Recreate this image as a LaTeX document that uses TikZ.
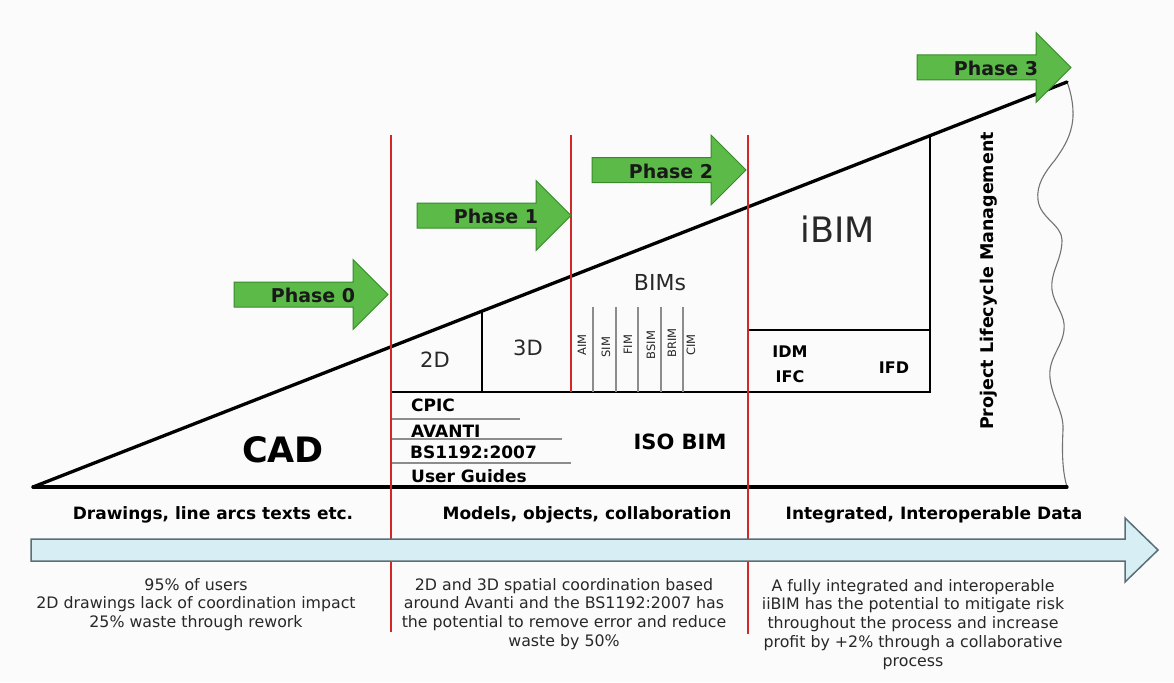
\documentclass[tikz,border=0pt]{standalone}
\usepackage{fontspec}
\setmainfont{DejaVu Sans}
\usetikzlibrary{calc}
\definecolor{phgreen}{RGB}{92,186,72}
\definecolor{phgreendark}{RGB}{58,138,44}
\definecolor{redsepcol}{RGB}{210,40,40}
\definecolor{bluefill}{RGB}{214,238,244}
\definecolor{blueedge}{RGB}{90,110,118}
\definecolor{txtgrey}{RGB}{40,40,40}
\definecolor{bgcol}{RGB}{251,251,251}
\newcommand\setsz[2]{\fontsize{#1pt}{#2pt}\selectfont}
\newcommand\PhaseArrow[4]{%
  \draw[phasearrow] (#2,#3-12.5) -- ++(119,0) -- ++(0,-22.5) -- (#2+154,#3)
     -- (#2+119,#3+35) -- ++(0,-22.5) -- (#2,#3+12.5) -- cycle;
  \node[phaselabel] (#1) at (#2+79,#3+1) {#4};
}
\tikzset{
  mainline/.style={line width=3.3pt, black, line cap=round},
  boxline/.style={line width=2.8pt, black},
  redsep/.style={line width=2.3pt, redsepcol},
  thinline/.style={line width=1.1pt, black!45},
  wavyline/.style={line width=1.1pt, black!55},
  phasearrow/.style={fill=phgreen, draw=phgreendark, line width=1pt},
  phaselabel/.style={font=\bfseries\setsz{19}{23}, text=black!90, inner sep=0pt},
  bluearrow/.style={fill=bluefill, draw=blueedge, line width=1.5pt},
  heading/.style={font=\bfseries\setsz{17}{20}, inner sep=0pt, anchor=base},
  para/.style={font=\setsz{15.8}{18.7}, text=txtgrey, align=center, inner sep=0pt, anchor=north},
  reglabel/.style={text=txtgrey, inner sep=0pt},
  boldlabel/.style={font=\bfseries\setsz{17}{20}, inner sep=0pt},
  listlabel/.style={font=\bfseries\setsz{17}{20}, inner sep=0pt, anchor=base west},
  sublabel/.style={font=\setsz{11.5}{13}, text=txtgrey, inner sep=0pt, rotate=90},
}
\begin{document}
\begin{tikzpicture}[x=1pt,y=-1pt]
\path[fill=bgcol] (0,0) rectangle (1174,682);
\useasboundingbox (0,0) rectangle (1174,682);

% main triangle
\coordinate (A) at (33,487);
\coordinate (B) at (1067,82);
\coordinate (C) at (1067,487);
\coordinate (h2d) at (482,311.1);
\coordinate (hib) at (930,135.7);
\coordinate (b2d) at (482,392);
\coordinate (bl) at (391,392);
\coordinate (br) at (930,392);
\coordinate (ibl) at (748,330);
\coordinate (ibr) at (930,330);

% wavy right edge
\draw[wavyline] (B) .. controls (1071,92) and (1075,110) .. (1072,125)
  .. controls (1069,140) and (1062,150) .. (1055,160)
  .. controls (1045,172) and (1036,185) .. (1038,200)
  .. controls (1040,218) and (1062,225) .. (1062,240)
  .. controls (1062,260) and (1050,272) .. (1052,290)
  .. controls (1054,305) and (1066,315) .. (1064,330)
  .. controls (1062,348) and (1048,358) .. (1050,378)
  .. controls (1052,398) and (1064,412) .. (1063,430)
  .. controls (1062,450) and (1062,470) .. (C);

% black structure
\draw[boxline] (bl) -- (br) -- (hib);
\draw[boxline] (b2d) -- (h2d);
\draw[boxline] (ibl) -- (ibr);
\draw[mainline] (A) -- (B);
\draw[mainline] (A) -- (C);

% thin separators for BIMs
\foreach \xx/\nm in {593/s1,616/s2,638/s3,661/s4,683/s5}{
  \coordinate (\nm t) at (\xx,307);
  \coordinate (\nm b) at (\xx,392);
  \draw[thinline] (\nm t) -- (\nm b);
}
% list underlines
\coordinate (u0) at (391,419); \coordinate (u0e) at (520,419);
\coordinate (u1) at (391,439); \coordinate (u1e) at (562,439);
\coordinate (u2) at (391,463); \coordinate (u2e) at (571,463);
\draw[thinline] (u0) -- (u0e);
\draw[thinline] (u1) -- (u1e);
\draw[thinline] (u2) -- (u2e);

% red separators
\coordinate (r0t) at (391,135); \coordinate (r0b) at (391,632);
\coordinate (r1t) at (571,135); \coordinate (r1b) at (571,392);
\coordinate (r2t) at (748,135); \coordinate (r2b) at (748,634);
\draw[redsep] (r0t) -- (r0b);
\draw[redsep] (r1t) -- (r1b);
\draw[redsep] (r2t) -- (r2b);

% big timeline arrow
\draw[bluearrow] (31,539) -- (1125,539) -- (1125,518) -- (1158,550)
  -- (1125,582) -- (1125,561) -- (31,561) -- cycle;

% phase arrows
\PhaseArrow{p0}{234}{294.5}{Phase 0}
\PhaseArrow{p1}{417}{215.5}{Phase 1}
\PhaseArrow{p2}{592}{170}{Phase 2}
\PhaseArrow{p3}{917}{67.5}{Phase 3}

% labels inside triangle
\node[font=\bfseries\setsz{35}{40}, inner sep=0pt] (cad) at (283,450) {CAD};
\node[reglabel, font=\setsz{21}{25}] (t2d) at (435,360) {2D};
\node[reglabel, font=\setsz{21}{25}] (t3d) at (528,348) {3D};
\node[reglabel, font=\setsz{22}{26}] (bims) at (660,283) {BIMs};
\node[reglabel, font=\setsz{35}{40}] (ibim) at (838,229) {iBIM};
\node[boldlabel, font=\bfseries\setsz{16}{19}] (idm) at (790,352) {IDM};
\node[boldlabel, font=\bfseries\setsz{16}{19}] (ifc) at (790,377) {IFC};
\node[boldlabel, font=\bfseries\setsz{16}{19}] (ifd) at (894,368) {IFD};
\node[boldlabel, font=\bfseries\setsz{21}{25}] (iso) at (680,442) {ISO BIM};
\node[listlabel] (cpic) at (411,411) {CPIC};
\node[listlabel] (avanti) at (411,437) {AVANTI};
\node[listlabel] (bs) at (410,458) {BS1192:2007};
\node[listlabel] (ug) at (411,482) {User Guides};
\node[boldlabel, font=\bfseries\setsz{17.5}{21}, rotate=90, anchor=base] (plm) at (993,281) {Project Lifecycle Management};

% BIM sub labels
\node[sublabel] (aim) at (582,345) {AIM};
\node[sublabel] (sim) at (606,347) {SIM};
\node[sublabel] (fim) at (628,345) {FIM};
\node[sublabel] (bsim) at (651,345) {BSIM};
\node[sublabel] (brim) at (672,343) {BRIM};
\node[sublabel] (cim) at (691,345) {CIM};

% headings
\node[heading] (h0) at (213,519.5) {Drawings, line arcs texts etc.};
\node[heading] (h1) at (587,519.5) {Models, objects, collaboration};
\node[heading] (h2) at (934,519.5) {Integrated, Interoperable Data};

% paragraphs
\node[para] (d0) at (196,578) {95\% of users\\2D drawings lack of coordination impact\\25\% waste through rework};
\node[para] (d1) at (564,578) {2D and 3D spatial coordination based\\around Avanti and the BS1192:2007 has\\the potential to remove error and reduce\\waste by 50\%};
\node[para] (d2) at (913,579) {A fully integrated and interoperable\\iiBIM has the potential to mitigate risk\\throughout the process and increase\\profit by +2\% through a collaborative\\process};
\end{tikzpicture}
\end{document}
